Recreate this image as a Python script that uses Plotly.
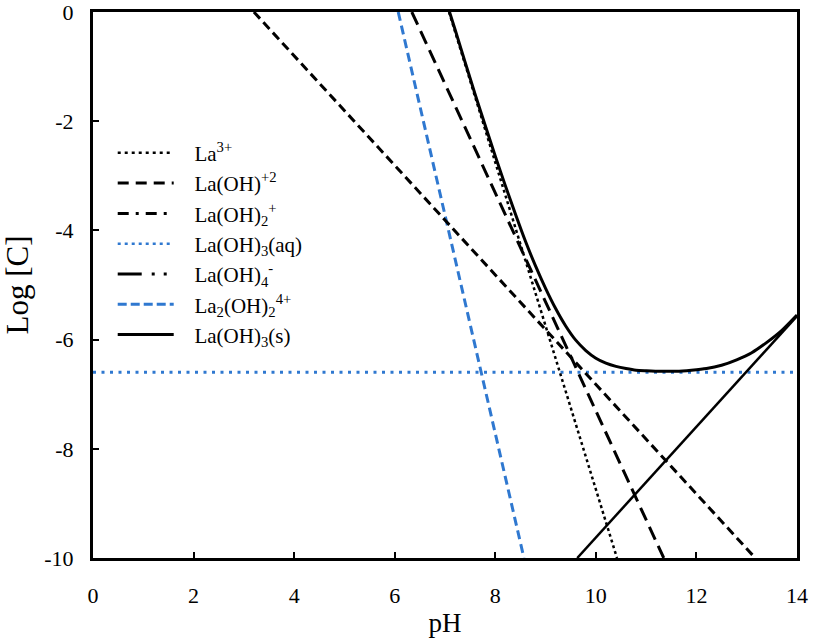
import plotly.graph_objects as go

# ---- data ----
ph_la3 = [7.08, 10.42]
logc_la3 = [0, -10]

ph_laoh = [6.34, 11.35]
logc_laoh = [0, -10]

ph_laoh2 = [3.20, 13.17]
logc_laoh2 = [0, -10]

ph_aq = [0, 14]
logc_aq = [-6.6, -6.6]

ph_laoh4 = [9.63, 14.0]
logc_laoh4 = [-10, -5.57]

ph_dimer = [6.07, 8.57]
logc_dimer = [0, -10]

ph_solid = [7.09, 7.2, 7.4, 7.6, 7.8, 8.0, 8.2, 8.4, 8.6, 8.8, 9.0, 9.2, 9.4, 9.6,
            9.8, 10.0, 10.2, 10.4, 10.6, 10.8, 11.0, 11.3, 11.6, 11.9, 12.2, 12.5,
            12.8, 13.1, 13.4, 13.7, 14.0]
logc_solid = [0, -0.32, -0.92, -1.51, -2.08, -2.64, -3.18, -3.70, -4.20, -4.65, -5.06,
              -5.43, -5.75, -6.01, -6.20, -6.34, -6.43, -6.49, -6.53, -6.56, -6.57,
              -6.58, -6.58, -6.56, -6.53, -6.47, -6.37, -6.24, -6.05, -5.83, -5.55]

legend_names = ["La<sup>3+</sup>", "La(OH)<sup>+2</sup>", "La(OH)<sub>2</sub><sup>+</sup>",
                "La(OH)<sub>3</sub>(aq)", "La(OH)<sub>4</sub><sup>-</sup>",
                "La<sub>2</sub>(OH)<sub>2</sub><sup>4+</sup>", "La(OH)<sub>3</sub>(s)"]

x_ticks = [0, 2, 4, 6, 8, 10, 12, 14]
x_tick_labels = ["0", "2", "4", "6", "8", "10", "12", "14"]
y_ticks = [0, -2, -4, -6, -8, -10]
y_tick_labels = ["0", "-2", "-4", "-6", "-8", "-10"]

BLACK = "#000000"
BLUE = "#2F78D0"
FONT = "Liberation Serif, Times New Roman, serif"

fig = go.Figure()

# legend-only samples (styles as shown in the legend)
legend_styles = [
    dict(color=BLACK, width=2.5, dash="3px,4px"),
    dict(color=BLACK, width=3, dash="11px,7px"),
    dict(color=BLACK, width=3, dash="11px,7px,3px,7px"),
    dict(color=BLUE, width=2.5, dash="3px,4px"),
    dict(color=BLACK, width=3, dash="24px,10px,3px,9px,3px,9px"),
    dict(color=BLUE, width=3, dash="9px,4px"),
    dict(color=BLACK, width=3, dash="solid"),
]
for name, st in zip(legend_names, legend_styles):
    fig.add_trace(go.Scatter(x=[None], y=[None], mode="lines",
                             name="&nbsp;&nbsp;&nbsp;" + name, line=st,
                             showlegend=True, hoverinfo="skip"))

# plotted lines
fig.add_trace(go.Scatter(x=ph_aq, y=logc_aq, mode="lines", showlegend=False,
                         line=dict(color=BLUE, width=3, dash="3px,5.5px")))
fig.add_trace(go.Scatter(x=ph_dimer, y=logc_dimer, mode="lines", showlegend=False,
                         line=dict(color=BLUE, width=3, dash="9px,5px")))
fig.add_trace(go.Scatter(x=ph_laoh2, y=logc_laoh2, mode="lines", showlegend=False,
                         line=dict(color=BLACK, width=3, dash="9px,5px")))
fig.add_trace(go.Scatter(x=ph_laoh, y=logc_laoh, mode="lines", showlegend=False,
                         line=dict(color=BLACK, width=3, dash="14px,7px")))
fig.add_trace(go.Scatter(x=ph_la3, y=logc_la3, mode="lines", showlegend=False,
                         line=dict(color=BLACK, width=2.5, dash="3px,3px")))
fig.add_trace(go.Scatter(x=ph_laoh4, y=logc_laoh4, mode="lines", showlegend=False,
                         line=dict(color=BLACK, width=2.5)))
fig.add_trace(go.Scatter(x=ph_solid, y=logc_solid, mode="lines", showlegend=False,
                         line=dict(color=BLACK, width=3, shape="spline", smoothing=0.6)))

fig.update_layout(
    width=814, height=641,
    margin=dict(l=93, r=17, t=12, b=83, autoexpand=False),
    paper_bgcolor="white", plot_bgcolor="white",
    font=dict(family=FONT, size=22, color=BLACK),
    legend=dict(x=0.028, y=0.779, xanchor="left", yanchor="top",
                bgcolor="rgba(0,0,0,0)", font=dict(family=FONT, size=21),
                itemwidth=56, tracegroupgap=0),
)
fig.update_xaxes(range=[0, 14], tickvals=x_ticks, ticktext=x_tick_labels,
                 ticks="inside", ticklen=6, tickwidth=1.5, tickcolor=BLACK,
                 showline=True, linecolor=BLACK, linewidth=3, mirror=True,
                 showgrid=False, zeroline=False, ticklabelstandoff=16,
                 ticklabeloverflow="allow",
                 automargin=False, tickfont=dict(size=22),
                 title=dict(text="pH", font=dict(size=27), standoff=6))
fig.update_yaxes(range=[-10, 0], tickvals=y_ticks, ticktext=y_tick_labels,
                 ticks="inside", ticklen=6, tickwidth=1.5, tickcolor=BLACK,
                 showline=True, linecolor=BLACK, linewidth=3, mirror=True,
                 showgrid=False, zeroline=False, ticklabelstandoff=12,
                 ticklabeloverflow="allow",
                 automargin=False, tickfont=dict(size=22),
                 title=dict(text="Log [C]", font=dict(size=31), standoff=9))

fig.write_html("out.html", config={"displayModeBar": False},
               post_script="document.body.style.margin='0px';")
